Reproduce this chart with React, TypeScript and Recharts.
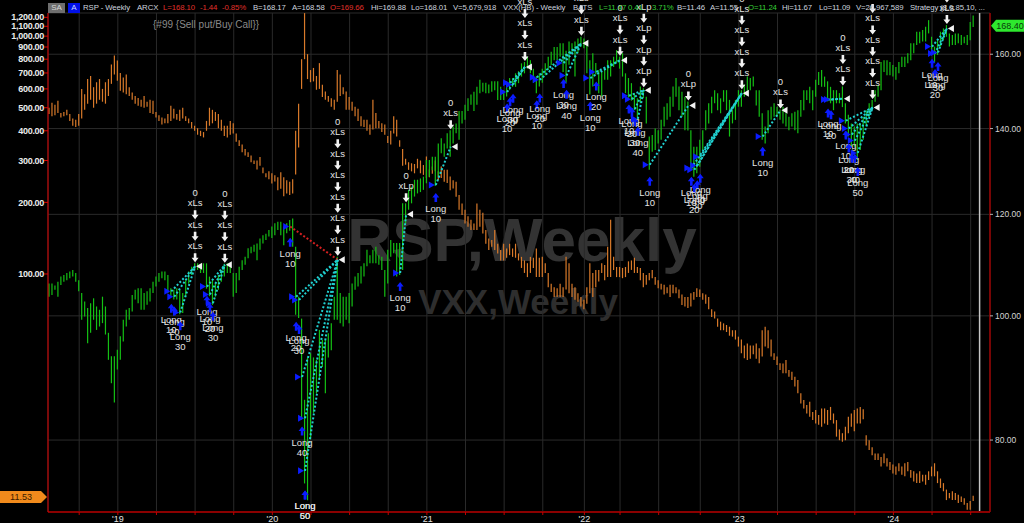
import React from "react";
import { ComposedChart, Bar, XAxis, YAxis, CartesianGrid, ReferenceLine, ReferenceDot } from "recharts";

// weekly bars, Friday closes, starting late July 2018 (last 5 slots are empty future weeks)
const START = Date.UTC(2018, 6, 27);
const DAY = 24 * 3600 * 1000;
const weeks = Array.from({ length: 317 }, (_, i) => new Date(START + i * 7 * DAY).toISOString().slice(0, 10));

// RSP weekly high / low (right axis, log)
const rspHi = [
  106.0, 106.0, 105.6, 106.3, 107.3, 107.6, 108.0, 108.3, 108.6, 108.0,
  106.6, 104.2, 102.6, 101.4, 102.3, 103.2, 101.7, 101.1, 103.5, 101.7,
  97.0, 93.0, 93.0, 94.1, 96.4, 99.3, 101.1, 101.4, 103.8, 104.8,
  105.1, 105.1, 104.2, 104.5, 105.1, 106.3, 107.3, 108.0, 108.3, 108.3,
  107.6, 105.1, 104.8, 105.1, 104.8, 104.2, 106.6, 108.3, 109.2, 109.9,
  109.9, 109.5, 109.9, 109.9, 107.3, 106.6, 106.0, 107.6, 108.6, 109.8,
  109.9, 109.9, 108.0, 108.0, 109.2, 110.5, 111.2, 112.9, 113.2, 113.6,
  113.9, 114.9, 115.6, 115.9, 116.7, 117.4, 118.1, 118.4, 118.4, 117.4,
  118.1, 118.8, 119.1, 113.2, 103.5, 99.5, 86.0, 92.8, 93.5, 92.8,
  92.4, 97.5, 95.8, 95.8, 96.9, 98.7, 103.5, 111.2, 104.2, 103.5,
  103.5, 104.2, 106.0, 107.3, 108.0, 109.3, 109.9, 112.6, 111.5, 112.6,
  113.2, 111.5, 111.2, 108.6, 112.6, 114.6, 114.0, 114.0, 114.0, 122.4,
  122.4, 125.4, 126.1, 127.7, 127.7, 128.0, 128.4, 132.3, 132.3, 133.1,
  133.1, 136.3, 137.6, 136.3, 138.8, 139.6, 140.5, 141.3, 144.5, 144.5,
  146.1, 147.8, 148.8, 149.6, 150.9, 152.8, 152.0, 152.0, 151.5, 152.4,
  152.4, 152.4, 150.9, 150.0, 152.4, 153.3, 153.3, 154.6, 155.2, 157.4,
  157.8, 159.3, 158.3, 155.9, 153.7, 154.6, 155.9, 157.4, 159.3, 160.7,
  162.1, 162.1, 163.2, 163.2, 161.0, 163.7, 163.2, 163.7, 164.6, 165.1,
  164.6, 163.2, 158.3, 160.3, 157.5, 155.5, 155.0, 156.4, 158.3, 158.3,
  159.3, 161.2, 159.3, 160.3, 154.6, 153.3, 151.9, 149.2, 147.8, 151.0,
  150.5, 148.2, 138.0, 138.4, 140.0, 139.6, 142.2, 145.6, 146.5, 148.2,
  151.0, 153.3, 151.0, 149.6, 148.2, 147.0, 139.6, 135.5, 135.5, 137.2,
  139.6, 144.7, 146.5, 148.2, 150.0, 149.2, 147.8, 150.0, 150.0, 147.4,
  144.7, 147.4, 150.0, 150.0, 151.5, 153.7, 153.3, 153.7, 150.0, 150.0,
  143.9, 140.5, 144.7, 145.6, 146.5, 145.6, 144.9, 145.6, 143.9, 143.0,
  143.9, 144.3, 144.7, 147.4, 150.0, 150.0, 150.9, 150.0, 152.8, 155.0,
  155.5, 153.7, 152.4, 150.9, 150.0, 150.0, 149.2, 151.0, 146.5, 143.5,
  141.3, 140.5, 141.3, 141.3, 143.0, 144.7, 146.5, 147.4, 150.0, 151.4,
  157.8, 158.3, 158.3, 157.8, 156.9, 156.4, 157.8, 159.3, 159.3, 160.3,
  163.2, 163.2, 166.6, 166.6, 167.1, 168.1, 170.1, 165.1, 162.2, 164.1,
  166.6, 167.6, 168.6, 166.1, 165.6, 166.1, 166.1, 165.6, 165.1, 165.6,
  169.5, 171.5,
];
const rspLo = [
  103.5, 103.8, 104.8, 103.5, 105.7, 106.3, 106.6, 107.0, 107.3, 106.3,
  104.5, 99.3, 99.9, 95.2, 97.0, 99.3, 97.5, 98.1, 98.7, 96.7,
  92.4, 88.6, 85.6, 90.8, 92.4, 95.5, 98.1, 99.3, 100.8, 103.0,
  102.3, 101.1, 101.1, 102.0, 102.6, 104.2, 105.4, 106.3, 107.0, 106.6,
  104.2, 103.5, 103.0, 103.0, 100.3, 100.5, 103.5, 106.0, 107.6, 108.6,
  108.6, 108.0, 108.0, 105.0, 103.6, 102.0, 103.5, 104.8, 106.3, 107.3,
  108.0, 108.0, 103.5, 104.2, 106.6, 108.6, 109.6, 110.9, 111.9, 112.2,
  110.5, 112.6, 113.9, 114.6, 115.3, 115.0, 115.6, 116.7, 115.6, 113.5,
  116.0, 116.5, 113.2, 100.2, 99.6, 83.0, 74.0, 71.8, 80.1, 84.0,
  87.0, 89.4, 91.2, 87.0, 92.8, 94.0, 99.3, 99.3, 98.7, 98.1,
  99.3, 98.7, 101.7, 104.8, 105.4, 106.0, 107.3, 109.3, 109.9, 109.9,
  109.9, 109.6, 108.6, 103.5, 106.0, 111.2, 111.9, 107.3, 107.6, 108.6,
  118.1, 121.0, 122.4, 123.9, 124.6, 124.9, 125.4, 126.9, 128.4, 129.9,
  126.3, 128.4, 133.9, 133.1, 135.1, 133.1, 136.3, 138.8, 137.2, 141.3,
  142.2, 144.5, 146.1, 144.5, 146.1, 149.2, 149.6, 149.2, 149.2, 149.6,
  150.0, 147.4, 147.4, 147.4, 148.3, 150.0, 150.9, 150.9, 151.9, 153.7,
  154.6, 155.9, 154.6, 152.0, 149.2, 151.0, 152.0, 154.1, 155.5, 156.9,
  158.3, 158.3, 159.3, 155.0, 152.0, 157.0, 160.3, 153.7, 160.3, 162.1,
  161.7, 154.6, 148.8, 151.0, 154.3, 149.2, 148.2, 152.8, 152.8, 153.7,
  156.4, 157.4, 155.9, 153.7, 149.2, 148.0, 147.2, 144.7, 142.2, 146.5,
  147.8, 141.3, 130.0, 134.3, 134.7, 136.3, 137.2, 140.5, 142.2, 143.0,
  145.6, 148.2, 144.7, 143.0, 139.6, 139.5, 130.0, 128.4, 129.2, 130.7,
  134.7, 139.6, 141.3, 143.9, 146.5, 144.7, 143.9, 146.9, 144.7, 138.0,
  141.3, 142.2, 145.6, 145.6, 148.2, 149.6, 150.0, 151.0, 145.9, 143.0,
  137.2, 136.3, 138.8, 142.2, 143.0, 143.0, 142.2, 141.3, 140.5, 139.6,
  140.5, 139.6, 138.8, 143.0, 144.7, 147.4, 146.5, 144.7, 148.2, 151.4,
  150.9, 150.9, 147.0, 146.5, 144.7, 146.5, 146.5, 145.5, 141.3, 138.0,
  135.5, 135.5, 132.3, 134.7, 137.2, 140.5, 143.0, 144.7, 146.9, 148.2,
  150.0, 155.0, 154.1, 154.1, 153.7, 152.8, 154.6, 156.4, 156.4, 157.4,
  158.3, 160.3, 162.7, 163.2, 163.7, 163.7, 166.1, 160.7, 157.8, 159.8,
  162.2, 164.1, 165.1, 162.2, 162.7, 162.7, 163.2, 162.7, 163.2, 162.7,
  164.1, 168.0,
];

// VXX weekly high / low (left axis, log)
const vxxHi = [
  500, 525, 515, 535, 475, 480, 490, 470, 450, 445,
  470, 600, 570, 660, 680, 610, 640, 660, 600, 640,
  660, 760, 830, 790, 700, 670, 690, 610, 580, 560,
  550, 540, 560, 530, 540, 535, 480, 465, 455, 450,
  470, 510, 495, 470, 490, 500, 460, 450, 435, 420,
  410, 400, 395, 440, 500, 490, 480, 470, 445, 420,
  420, 440, 430, 390, 365, 350, 335, 325, 315, 300,
  300, 310, 280, 265, 270, 265, 260, 255, 268, 255,
  248, 244, 250, 400, 520, 800, 1250, 840, 720, 735,
  680, 770, 625, 585, 560, 548, 540, 720, 690, 610,
  585, 555, 530, 505, 495, 460, 445, 445, 425, 540,
  475, 440, 430, 425, 380, 400, 460, 445, 365, 335,
  305, 295, 292, 290, 305, 300, 287, 312, 275, 283,
  300, 270, 283, 274, 274, 257, 248, 244, 215, 198,
  186, 175, 169, 163, 198, 186, 181, 153, 141, 139,
  153, 134, 126, 134, 128, 134, 128, 134, 122, 118,
  114, 111, 118, 117, 128, 117, 118, 111, 101, 91,
  88, 87, 91, 88, 118, 111, 91, 88, 83, 80,
  78, 88, 111, 101, 104, 104, 111, 109, 130, 169,
  118, 107, 107, 106, 107, 113, 114, 117, 107, 106,
  101, 99, 101, 104, 97, 94, 91, 90, 88, 90,
  90, 88, 86, 82, 80, 80, 83, 84, 87, 86,
  83, 82, 80, 71, 69.5, 65, 63, 62, 61, 60,
  58, 58, 54.5, 53, 50, 51, 50, 50, 51, 48.7,
  58, 60, 58, 53, 46.4, 45, 42.1, 42, 43.5, 39.5,
  38.8, 37, 35.8, 31.5, 29.5, 28.1, 29, 26.3, 26.8, 25.5,
  27.2, 27.2, 26.8, 27.6, 25.9, 24.3, 22.2, 21.4, 22.8, 25.1,
  25.9, 26.8, 27.2, 27.6, 27, 21.0, 20.0, 18.7, 17.6, 17.6,
  17.0, 17.6, 16.8, 16.2, 15.8, 15.5, 16.0, 15.5, 16.0, 16.2,
  15.0, 14.8, 14.5, 14.8, 14.3, 14.3, 14.8, 15.5, 16.0, 14.8,
  13.8, 13.2, 12.4, 12.0, 12.2, 12.0, 11.8, 11.6, 11.4, 10.9,
  11.1, 11.67,
];
const vxxLo = [
  470, 460, 465, 475, 455, 460, 465, 440, 420, 415,
  420, 450, 490, 520, 540, 500, 520, 540, 530, 520,
  560, 630, 690, 650, 590, 580, 570, 560, 540, 520,
  510, 505, 500, 505, 475, 470, 455, 440, 425, 430,
  430, 440, 450, 445, 440, 450, 440, 430, 410, 400,
  385, 380, 375, 400, 420, 430, 440, 410, 400, 380,
  375, 385, 390, 360, 345, 325, 315, 310, 295, 290,
  275, 285, 265, 255, 250, 240, 245, 225, 228, 212,
  218, 215, 218, 262, 340, 600, 800, 660, 640, 645,
  595, 600, 555, 540, 530, 505, 490, 530, 560, 570,
  490, 490, 485, 460, 440, 418, 415, 400, 385, 405,
  410, 410, 395, 385, 355, 350, 390, 378, 343, 285,
  288, 274, 270, 265, 278, 265, 261, 253, 255, 264,
  270, 248, 253, 244, 241, 225, 229, 211, 186, 177,
  163, 158, 153, 153, 153, 158, 148, 134, 126, 130,
  126, 122, 114, 114, 117, 120, 118, 117, 114, 106,
  101, 97, 101, 106, 97, 97, 97, 101, 88, 84,
  80, 80, 80, 80, 86, 83, 80, 78, 76.5, 73,
  71, 75, 83, 80, 88, 93, 101, 94, 97, 97,
  104, 97, 97, 96, 97, 101, 104, 101, 101, 94,
  88, 90, 94, 96, 90, 87, 86, 82, 83, 80,
  83, 83, 79, 74, 73, 72, 73, 78, 80, 80,
  78, 75, 71, 66, 65, 60, 58, 58, 57, 55,
  54.5, 53, 49.5, 46.4, 44.2, 43.5, 44, 46, 44, 42.1,
  45, 49.5, 48.7, 45, 43.5, 41.4, 39.5, 38.2, 38.2, 37,
  35.8, 33.6, 31.5, 28.5, 27.2, 25.9, 25.1, 24.3, 23.5, 23.2,
  22.8, 23.5, 23.2, 24.3, 23.5, 20.7, 20.0, 19.7, 20.0, 21.4,
  22.8, 21.8, 23.5, 23.5, 24.5, 19.0, 18.2, 17.3, 16.5, 16.5,
  15.5, 16.0, 15.5, 15.0, 14.5, 14.3, 14.8, 14.3, 14.1, 14.8,
  13.9, 13.4, 13.2, 13.2, 13.4, 13.0, 13.6, 14.1, 14.1, 13.2,
  12.6, 12.2, 11.2, 11.4, 11.2, 11.2, 10.9, 11.0, 10.7, 10.2,
  10.2, 11.09,
];

const vxxTicks = [100, 200, 300, 400, 500, 600, 700, 800, 900, 1000, 1100, 1200];
const rspTicks = [80, 100, 120, 140, 160];
const rspLast = 168.4;
const vxxLast = 11.53;
const cursorWeek = 313;

// strategy trades: entries [week, price, qty], exit [week, price]
const trades = [
  { entries: [[41, 104.5, 10], [42, 103.5, 20], [44, 100.6, 30]], exit: [49, 109.3], tag: "xLs" },
  { entries: [[53, 105.4, 10], [54, 103.9, 20], [55, 102.3, 30]], exit: [59, 109.6], tag: "xLs" },
  { entries: [[81, 117.4, 10], [83, 103.5, 20], [84, 102.9, 30], [85, 89.6, 40], [86, 83.2, 50], [86, 75.7, 60]], exit: [97, 110.6], tag: "xLs", losing: [0] },
  { entries: [[118, 108.0, 10]], exit: [120, 120.0], tag: "xLp" },
  { entries: [[130, 126.5, 10]], exit: [135, 135.5], tag: "xLs" },
  { entries: [[154, 149.5, 10], [155, 152.0, 20], [156, 151.5, 30]], exit: [160, 156.4], tag: "xLs" },
  { entries: [[164, 153.5, 10], [165, 152.8, 20], [173, 157.5, 30], [174, 154.0, 40]], exit: [179, 163.2], tag: "xLs" },
  { entries: [[182, 153.3, 10], [184, 155.0, 20]], exit: [192, 158.3], tag: "xLs" },
  { entries: [[195, 148.5, 10], [196, 147.6, 20], [197, 145.0, 30], [198, 142.5, 40]], exit: [200, 150.0], tag: "xLp" },
  { entries: [[202, 131.2, 10]], exit: [215, 145.9], tag: "xLp" },
  { entries: [[216, 130.4, 10], [217, 130.0, 20], [218, 131.0, 30], [219, 133.1, 40]], exit: [233, 149.2], tag: "xLs" },
  { entries: [[240, 138.0, 10]], exit: [246, 144.7], tag: "xLs" },
  { entries: [[262, 147.5, 10], [263, 147.5, 20]], exit: [267, 147.7], tag: "xLs" },
  { entries: [[268, 142.0, 10], [269, 140.0, 20], [270, 138.5, 30], [271, 137.0, 40], [272, 134.0, 50]], exit: [277, 145.4], tag: "xLs" },
  { entries: [[297, 162.2, 10], [298, 160.2, 20], [299, 160.5, 30]], exit: [302, 167.6], tag: "xLs" },
];

const FONT = "Liberation Sans, Arial, sans-serif";
const GREEN = "#14c014";
const ORANGE = "#d97a2a";
const BLUE = "#0b1cff";
const CYAN = "#20d0d0";
const RED = "#d42020";
const WHITE = "#f2f2f2";
const LABEL = "#e4e4e4";

const rows = weeks.map((d, i) => ({ d, rh: rspHi[i], rl: rspLo[i], vh: vxxHi[i], vl: vxxLo[i] }));
const quarterTicks = weeks.filter((d, i) => i > 0 && ["01", "04", "07", "10"].includes(d.slice(5, 7)) && weeks[i - 1].slice(5, 7) !== d.slice(5, 7));

const stick = (color: string) => (p: any) => {
  if (!p || !p.payload || p.payload.rh == null || !Number.isFinite(p.y) || !Number.isFinite(p.height)) return null;
  const cx = p.x + p.width / 2;
  const y1 = Math.min(p.y, p.y + p.height);
  const y2 = Math.max(p.y, p.y + p.height);
  return <line x1={cx} x2={cx} y1={y1} y2={y2} stroke={color} strokeWidth={1.2} />;
};

const upArrow = (cx: number, t: number) =>
  `${cx},${t} ${cx + 3.5},${t + 4.5} ${cx + 1.3},${t + 4.5} ${cx + 1.3},${t + 9} ${cx - 1.3},${t + 9} ${cx - 1.3},${t + 4.5} ${cx - 3.5},${t + 4.5}`;
const downArrow = (cx: number, b: number) =>
  `${cx},${b} ${cx + 3.5},${b - 4.5} ${cx + 1.3},${b - 4.5} ${cx + 1.3},${b - 9} ${cx - 1.3},${b - 9} ${cx - 1.3},${b - 4.5} ${cx - 3.5},${b - 4.5}`;

const txt = { fontSize: 9.5, fill: LABEL, fontFamily: FONT, textAnchor: "middle" as const };

function EntryMark({ cx, cy, qty }: any) {
  return (
    <g>
      <polygon points={upArrow(cx, cy + 7)} fill={BLUE} />
      <text x={cx} y={cy + 26} {...txt}>Long</text>
      <text x={cx} y={cy + 36} {...txt}>{qty}</text>
    </g>
  );
}

function ExitStack({ cx, cy, n, tag }: any) {
  const els: any[] = [];
  for (let k = 0; k < n; k++) {
    els.push(<polygon key={"a" + k} points={downArrow(cx, cy - 1 - 21.5 * k)} fill={WHITE} />);
    els.push(<text key={"t" + k} x={cx} y={cy - 14 - 21.5 * k} {...txt}>{tag}</text>);
  }
  els.push(<text key="z" x={cx} y={cy - 24 - 21.5 * (n - 1)} {...txt}>0</text>);
  return <g>{els}</g>;
}

function RspTag(p: any) {
  const vb = p.viewBox || {};
  const x = (vb.x || 0) + (vb.width || 0) + 1;
  const y = vb.y || 0;
  return (
    <g>
      <polygon points={`${x},${y} ${x + 5},${y - 6} ${x + 33},${y - 6} ${x + 33},${y + 6} ${x + 5},${y + 6}`} fill="#2ee82e" />
      <text x={x + 19} y={y + 3.2} textAnchor="middle" fontSize={9} fill="#0a3a0a" fontFamily={FONT}>{rspLast.toFixed(2)}</text>
    </g>
  );
}

function VxxTag(p: any) {
  const vb = p.viewBox || {};
  const x = vb.x || 0;
  const y = vb.y || 0;
  return (
    <g>
      <polygon points={`${x - 48},${y - 6} ${x - 7},${y - 6} ${x - 1},${y} ${x - 7},${y + 6} ${x - 48},${y + 6}`} fill="#f08a1c" />
      <text x={x - 27} y={y + 3.2} textAnchor="middle" fontSize={9} fill="#3a1a00" fontFamily={FONT}>{vxxLast.toFixed(2)}</text>
    </g>
  );
}

const refs: any[] = [];
trades.forEach((t: any, ti) => {
  const [xw, xp] = t.exit;
  t.entries.forEach(([w, p]: number[], ei: number) => {
    const lost = t.losing && t.losing.includes(ei);
    refs.push(
      <ReferenceLine key={`l${ti}-${ei}`} yAxisId="rsp" segment={[{ x: weeks[w], y: p }, { x: weeks[xw], y: xp }]}
        stroke={lost ? RED : CYAN} strokeWidth={2} strokeDasharray="2 2" />
    );
  });
});
trades.forEach((t: any, ti) => {
  const [xw, xp] = t.exit;
  t.entries.forEach(([w, p, q]: number[], ei: number) => {
    refs.push(
      <ReferenceDot key={`et${ti}-${ei}`} yAxisId="rsp" x={weeks[w]} y={p}
        shape={(s: any) => <polygon points={`${s.cx - 1},${s.cy} ${s.cx - 7},${s.cy - 3.5} ${s.cx - 7},${s.cy + 3.5}`} fill={BLUE} />} />
    );
    refs.push(
      <ReferenceDot key={`ea${ti}-${ei}`} yAxisId="rsp" x={weeks[w]} y={rspLo[w]}
        shape={(s: any) => <EntryMark cx={s.cx} cy={s.cy} qty={q} />} />
    );
  });
  refs.push(
    <ReferenceDot key={`xt${ti}`} yAxisId="rsp" x={weeks[xw]} y={xp}
      shape={(s: any) => <polygon points={`${s.cx + 1},${s.cy} ${s.cx + 7},${s.cy - 3.5} ${s.cx + 7},${s.cy + 3.5}`} fill={WHITE} />} />
  );
  refs.push(
    <ReferenceDot key={`xs${ti}`} yAxisId="rsp" x={weeks[xw]} y={rspHi[xw]}
      shape={(s: any) => <ExitStack cx={s.cx} cy={s.cy} n={t.entries.length} tag={t.tag} />} />
  );
});

const HC = "#cdd3df";
const HR = "#e0302a";
const HG = "#36cf36";
const header: [number, string, string][] = [
  [83, "RSP - Weekly", HC], [137, "ARCX", HC], [163, "L=168.10", HR], [200, "-1.44", HR], [222, "-0.85%", HR],
  [253, "B=168.17", HC], [292, "A=168.58", HC], [330, "O=169.66", HR], [371, "Hi=169.88", HC], [411, "Lo=168.01", HC],
  [453, "V=5,679,918", HC], [503, "VXX(HB) - Weekly", HC], [573, "BATS", HC], [599, "L=11.47", HG], [628, "0.41", HG],
  [652, "3.71%", HG], [677, "B=11.46", HC], [710, "A=11.55", HC], [748, "O=11.24", HG], [782, "Hi=11.67", HC],
  [819, "Lo=11.09", HC], [856, "V=26,967,589", HC], [910, "Strategy (8,0.85,10, ...", HC],
];

export default function App() {
  return (
    <div style={{ position: "fixed", left: 0, top: 0, width: 1024, height: 523, background: "#000", overflow: "hidden", fontFamily: FONT }}>
      <svg width={1024} height={523} style={{ position: "absolute", left: 0, top: 0 }}>
        <text x={522} y={261} textAnchor="middle" fontSize={62} fontWeight="bold" fill="#333333" fontFamily={FONT}>RSP,Weekly</text>
        <text x={518} y={314} textAnchor="middle" fontSize={35} fontWeight="bold" fill="#2e2e2e" fontFamily={FONT}>VXX,Weekly</text>
      </svg>
      <div style={{ position: "absolute", left: 0, top: 0 }}>
        <ComposedChart width={1024} height={523} data={rows} margin={{ top: 13, right: 0, bottom: 0, left: 0 }} barGap={-2}>
          <CartesianGrid yAxisId="rsp" stroke="#2a2a2a" />
          <XAxis dataKey="d" ticks={quarterTicks} interval={0} height={11} tickSize={3} tickMargin={1}
            tickFormatter={(d: string) => (d.slice(5, 7) === "01" ? "'" + d.slice(2, 4) : "")}
            tick={{ fill: "#e0e0e0", fontSize: 9, fontFamily: FONT }}
            axisLine={{ stroke: "#8b0000", strokeWidth: 2 }} tickLine={{ stroke: "#c00000" }} />
          <YAxis yAxisId="vxx" orientation="left" scale="log" type="number" domain={[9.98, 1251]} allowDataOverflow
            ticks={vxxTicks} interval={0} width={48} tickSize={4} tickMargin={0}
            tickFormatter={(v: number) => v.toLocaleString("en-US", { minimumFractionDigits: 2, maximumFractionDigits: 2 })}
            tick={{ fill: "#ececec", fontSize: 9, fontWeight: "bold", fontFamily: FONT, letterSpacing: -0.3 }}
            axisLine={{ stroke: "#e00000" }} tickLine={{ stroke: "#e00000" }} />
          <YAxis yAxisId="rsp" orientation="right" scale="log" type="number" domain={[70.3, 172.3]} allowDataOverflow
            ticks={rspTicks} interval={0} width={34} tickSize={3} tickMargin={2}
            tickFormatter={(v: number) => v.toFixed(2)}
            tick={{ fill: "#d4d4d4", fontSize: 8.5, fontFamily: FONT }}
            axisLine={{ stroke: "#9a0000", strokeWidth: 1.5 }} tickLine={{ stroke: "#b0b0b0" }} />
          <Bar yAxisId="vxx" dataKey={(r: any) => (r.vh == null ? null : [r.vl, r.vh])} barSize={2}
            shape={stick(ORANGE)} isAnimationActive={false} />
          <Bar yAxisId="rsp" dataKey={(r: any) => (r.rh == null ? null : [r.rl, r.rh])} barSize={2}
            shape={stick(GREEN)} isAnimationActive={false} />
          <ReferenceLine yAxisId="rsp" x={weeks[cursorWeek]} stroke="#c4c4c4" strokeWidth={1.5} />
          <ReferenceLine yAxisId="rsp" y={rspLast} stroke="none" label={<RspTag />} />
          <ReferenceLine yAxisId="vxx" y={vxxLast} stroke="none" label={<VxxTag />} />
          {refs}
        </ComposedChart>
      </div>
      <div style={{ position: "absolute", left: 48, top: 3, width: 17, height: 10, background: "#6e6e6e", color: "#d6d6d6", fontSize: 8, lineHeight: "10px", textAlign: "center" }}>SA</div>
      <div style={{ position: "absolute", left: 68, top: 3, width: 12, height: 10, background: "#0010e8", color: "#c8d0ff", fontSize: 8, lineHeight: "10px", textAlign: "center" }}>A</div>
      {header.map(([x, s, c]) => (
        <div key={x} style={{ position: "absolute", left: x, top: 3, fontSize: 7.8, lineHeight: "10px", letterSpacing: "-0.1px", color: c, whiteSpace: "nowrap" }}>{s}</div>
      ))}
      <div style={{ position: "absolute", left: 153, top: 19, fontSize: 10, lineHeight: "12px", color: "#8a8a8a", whiteSpace: "nowrap" }}>{"{#99 {Sell put/Buy Call}}"}</div>
    </div>
  );
}
